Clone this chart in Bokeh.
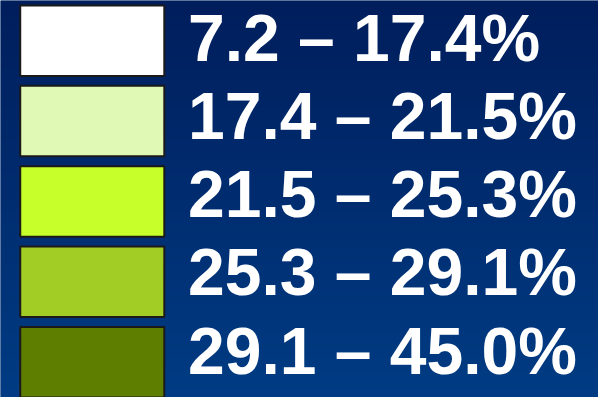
import numpy as np
from bokeh.plotting import figure
from bokeh.models import Range1d, ColumnDataSource
from bokeh.core.properties import value
from bokeh.embed import file_html
from bokeh.resources import INLINE

# Legend classes (percent ranges)
range_low = [7.2, 17.4, 21.5, 25.3, 29.1]
range_high = [17.4, 21.5, 25.3, 29.1, 45.0]
class_colors = ["#FFFFFF", "#E0F9B4", "#C6FF2A", "#A2CD24", "#5E7E00"]

labels = [f"{lo:.1f} \u2013 {hi:.1f}%" for lo, hi in zip(range_low, range_high)]

H = 405  # reference frame height; data y = H - pixel row
W = 606

p = figure(width=598, height=397, output_backend="svg", toolbar_location=None,
           x_range=Range1d(0, W), y_range=Range1d(0, H),
           min_border=0, outline_line_color=None)
p.axis.visible = False
p.grid.visible = False
p.background_fill_color = "#002A6E"
p.border_fill_color = "#002A6E"

# vertical gradient background
n = 200
top = np.array([0, 30, 92])
bot = np.array([0, 60, 132])
t = np.linspace(0, 1, n)[:, None]  # row 0 = bottom
cols = (bot * (1 - t) + top * t).astype(np.uint32)
img = np.empty((n, 1), dtype=np.uint32)
view = img.view(dtype=np.uint8).reshape((n, 1, 4))
view[:, :, 0] = cols[:, 0:1]
view[:, :, 1] = cols[:, 1:2]
view[:, :, 2] = cols[:, 2:3]
view[:, :, 3] = 255
p.image_rgba(image=[img], x=0, y=0, dw=W, dh=H)

idx = np.arange(len(labels))
box_top = 5 + 82 * idx
box_bottom = box_top + 72
src = ColumnDataSource(dict(
    left=[20] * len(labels), right=[166] * len(labels),
    top=H - box_top, bottom=H - box_bottom, color=class_colors,
))
p.quad(left="left", right="right", top="top", bottom="bottom", source=src,
       fill_color="color", line_color="#1A1A1A", line_width=2)

# vertical centre of each label's digits
centre = 38 + 79.8 * idx
tsrc = ColumnDataSource(dict(x=[190] * len(labels), y=H - centre, text=labels))
p.text(x="x", y="y", text="text", source=tsrc,
       text_font=value("Liberation Sans"), text_font_style="bold",
       text_font_size="66px", text_color="white",
       text_align="left", text_baseline="middle")

open("out.html", "w").write(file_html(p, INLINE))
